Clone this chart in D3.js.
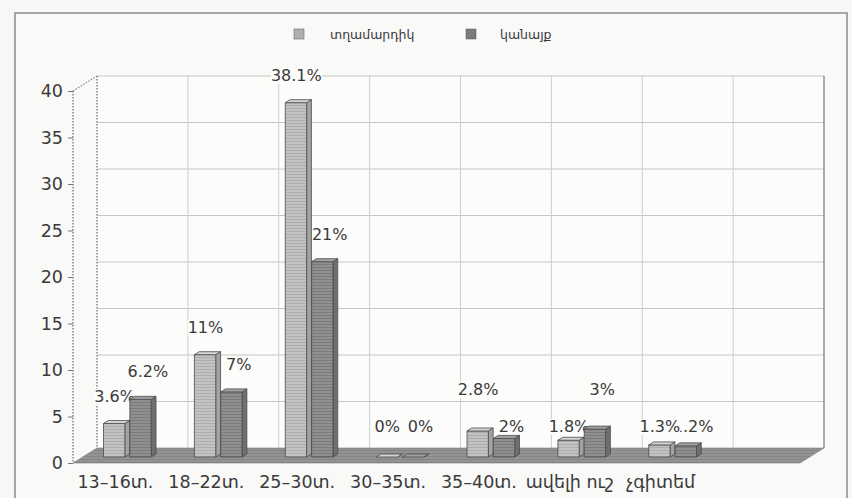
<!DOCTYPE html>
<html>
<head>
<meta charset="utf-8">
<script src="https://cdn.jsdelivr.net/npm/d3@7"></script>
<style>
  html, body { margin: 0; padding: 0; background: #f7f7f5; }
  svg { display: block; }
  text { font-family: "DejaVu Sans", "Liberation Sans", sans-serif; fill: #3a3a3a; }
</style>
</head>
<body>
<svg id="chart" width="852" height="498"></svg>
<script>
// Age groups and the share (%) of each answer, by sex
const categories = ["13–16տ.", "18–22տ.", "25–30տ.", "30–35տ.", "35–40տ.", "ավելի ուշ", "չգիտեմ"];
const seriesNames = ["տղամարդիկ", "կանայք"];
const menValues = [3.6, 11, 38.1, 0, 2.8, 1.8, 1.3];
const womenValues = [6.2, 7, 21, 0, 2, 3, 1.2];
const yTicks = [0, 5, 10, 15, 20, 25, 30, 35, 40];

const series = [menValues, womenValues];

const svg = d3.select("#chart");

// pseudo-3D frame: depth vector from the front plane to the back wall
const DX = 24, DY = -15;
const proj = (px, py, d) => [px + DX * d, py + DY * d];

// one spare column on the right of the category axis
const x = d3.scaleBand().domain(d3.range(categories.length + 1)).range([73, 800]);
const y = d3.scaleLinear().domain([0, 40]).range([463, 91]);
const bw = x.bandwidth();

// fills
const defs = svg.append("defs");
function stripes(id, base, line) {
  const p = defs.append("pattern").attr("id", id).attr("patternUnits", "userSpaceOnUse")
    .attr("width", 3).attr("height", 3);
  p.append("rect").attr("width", 3).attr("height", 3).attr("fill", base);
  p.append("rect").attr("width", 3).attr("height", 1).attr("fill", line);
}
stripes("menFront", "#c2c2c2", "#aeaeae");
stripes("womenFront", "#8f8f8f", "#7b7b7b");
stripes("floorFill", "#939393", "#858585");

const colors = [
  { front: "url(#menFront)", side: "#a3a3a3", top: "#d4d4d4", key: "#b0b0b0" },
  { front: "url(#womenFront)", side: "#6f6f6f", top: "#a2a2a2", key: "#7a7a7a" }
];

// outer frame
svg.append("rect").attr("x", 15).attr("y", 13).attr("width", 832).attr("height", 520)
  .attr("fill", "#f9f9f8").attr("stroke", "#8c8c8c").attr("stroke-width", 1.5);

// legend
const legend = svg.append("g");
const legendItems = [{ x: 294, tx: 330 }, { x: 466, tx: 500 }];
seriesNames.forEach((name, i) => {
  legend.append("rect").attr("x", legendItems[i].x).attr("y", 29).attr("width", 10).attr("height", 10)
    .attr("fill", colors[i].key).attr("stroke", "#666").attr("stroke-width", 0.6);
  legend.append("text").attr("x", legendItems[i].tx).attr("y", 39)
    .attr("font-size", 12.5).text(name);
});

// back wall
const [bx0, by0] = proj(x.range()[0], y(40), 1);
const [bx1, by1] = proj(x.range()[1], y(0), 1);
svg.append("rect").attr("x", bx0).attr("y", by0).attr("width", bx1 - bx0).attr("height", by1 - by0)
  .attr("fill", "#fcfcfb");

// horizontal grid on the back wall
svg.append("g").selectAll("line").data(yTicks.filter(t => t > 0)).join("line")
  .attr("x1", d => proj(x.range()[0], y(d), 1)[0])
  .attr("x2", d => proj(x.range()[1], y(d), 1)[0])
  .attr("y1", d => proj(0, y(d), 1)[1])
  .attr("y2", d => proj(0, y(d), 1)[1])
  .attr("stroke", "#c6c6c6").attr("stroke-width", 1);

// vertical grid on the back wall
const colEdges = d3.range(categories.length + 1).map(i => x(i)).concat([x.range()[1]]);
svg.append("g").selectAll("line").data(colEdges).join("line")
  .attr("x1", d => proj(d, 0, 1)[0]).attr("x2", d => proj(d, 0, 1)[0])
  .attr("y1", by0).attr("y2", by1)
  .attr("stroke", (d, i) => i === colEdges.length - 1 ? "#8f8f8f" : (i === 0 ? "none" : "#cdcdcd"))
  .attr("stroke-width", (d, i) => i === colEdges.length - 1 ? 1.5 : 1);

// left wall edges (dotted)
const wall = svg.append("g").attr("stroke", "#6a6a6a").attr("stroke-width", 1.2)
  .attr("stroke-dasharray", "1.5,1.5").attr("fill", "none");
wall.append("line").attr("x1", x.range()[0]).attr("x2", x.range()[0]).attr("y1", y(40)).attr("y2", y(0));
wall.append("line").attr("x1", bx0).attr("x2", bx0).attr("y1", by0).attr("y2", by1);
wall.append("line").attr("x1", x.range()[0]).attr("y1", y(40)).attr("x2", bx0).attr("y2", by0)
  .attr("stroke-dasharray", null).attr("stroke", "#888");

// y axis
const yAxis = svg.append("g").attr("transform", `translate(${x.range()[0]},0)`)
  .call(d3.axisLeft(y).tickValues(yTicks).tickSize(5).tickPadding(5).tickSizeOuter(0));
yAxis.select(".domain").remove();
yAxis.selectAll(".tick line").attr("stroke", "#777");
yAxis.selectAll(".tick text").attr("font-size", 17.5).attr("font-family", "DejaVu Sans")
  .attr("fill", "#3a3a3a");

// floor
const floorPts = [proj(x.range()[0], y(0), 0), proj(x.range()[0], y(0), 1),
                  proj(x.range()[1], y(0), 1), proj(x.range()[1], y(0), 0)];
svg.append("polygon").attr("points", floorPts.map(p => p.join(",")).join(" "))
  .attr("fill", "url(#floorFill)").attr("stroke", "#7a7a7a").attr("stroke-width", 0.6);

// category labels
svg.append("g").selectAll("text").data(categories).join("text")
  .attr("x", (d, i) => x(i) + bw / 2 - 3)
  .attr("y", 488)
  .attr("text-anchor", "middle")
  .attr("font-size", 17.5)
  .text(d => d);

// bar geometry
const D0 = 0.4, D1 = 0.6;
const offsets = [0.23, 0.52];
const barW = 0.235 * bw;
const bdx = DX * (D1 - D0), bdy = DY * (D1 - D0);

function barGeom(i, s) {
  const v = series[s][i];
  const [fx, fy] = proj(x(i) + offsets[s] * bw, y(v), D0);
  const [, baseY] = proj(0, y(0), D0);
  return { v, fx, fy, baseY };
}

// value label placement: above the bar top; labels close to the floor sit on
// a common floor row, and a neighbour that would crowd that row is lifted
const floorRow = proj(0, y(0), D0)[1] - 25;
const rowGap = 37;
const labelShift = [-2, 5];
const labelY = categories.map((c, i) => {
  const ys = [0, 1].map(s => {
    const nat = barGeom(i, s).fy - 22;
    return nat > floorRow - 17 ? floorRow : nat;
  });
  [0, 1].forEach(s => {
    const o = 1 - s;
    if (ys[o] === floorRow && ys[s] !== floorRow && floorRow - ys[s] < 30) ys[s] = floorRow - rowGap;
  });
  return ys;
});

// value labels (women first, men drawn over them)
const labels = svg.append("g");
[1, 0].forEach(s => {
  series[s].forEach((v, i) => {
    const g = barGeom(i, s);
    const cx = g.fx + (barW + bdx) / 2 + labelShift[s];
    const t = labels.append("text").attr("x", cx).attr("y", labelY[i][s])
      .attr("text-anchor", "middle").attr("font-size", 16).text(v + "%");
    if (s === 0) {
      const bb = t.node().getBBox();
      labels.insert("rect", () => t.node())
        .attr("x", bb.x).attr("y", bb.y + 2).attr("width", bb.width).attr("height", bb.height - 3)
        .attr("fill", "#fcfcfb");
    }
  });
});

// bars
const bars = svg.append("g").attr("stroke", "#4a4a4a").attr("stroke-width", 0.8)
  .attr("stroke-linejoin", "round");
categories.forEach((c, i) => {
  [0, 1].forEach(s => {
    const g = barGeom(i, s);
    const side = [[g.fx + barW, g.fy], [g.fx + barW + bdx, g.fy + bdy],
                  [g.fx + barW + bdx, g.baseY + bdy], [g.fx + barW, g.baseY]];
    const top = [[g.fx, g.fy], [g.fx + bdx, g.fy + bdy],
                 [g.fx + barW + bdx, g.fy + bdy], [g.fx + barW, g.fy]];
    bars.append("polygon").attr("points", side.map(p => p.join(",")).join(" "))
      .attr("fill", colors[s].side);
    bars.append("rect").attr("x", g.fx).attr("y", g.fy)
      .attr("width", barW).attr("height", Math.max(0, g.baseY - g.fy))
      .attr("fill", colors[s].front);
    bars.append("polygon").attr("points", top.map(p => p.join(",")).join(" "))
      .attr("fill", colors[s].top);
  });
});
</script>
</body>
</html>
